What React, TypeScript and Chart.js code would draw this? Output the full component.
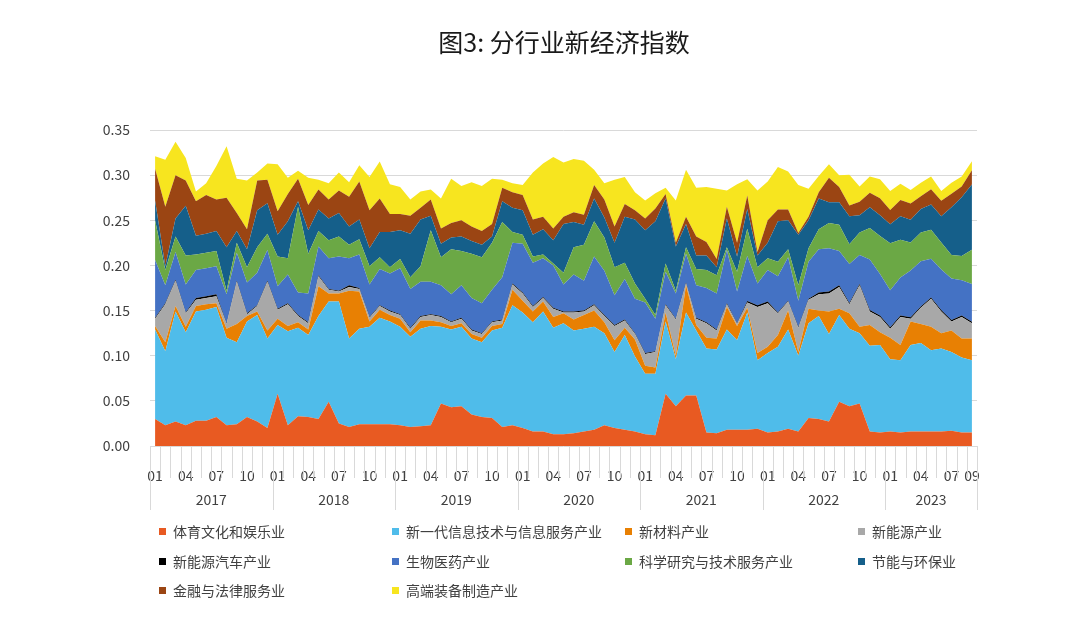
import React, { useEffect, useRef } from "react";
import { Chart, registerables } from "chart.js";

Chart.register(...registerables);

const FONT = '"Noto Sans CJK SC", "Noto Sans", sans-serif';
const TEXT = "#404040";
const GRID = "#D9D9D9";

const YEARS = [2017, 2018, 2019, 2020, 2021, 2022, 2023];
const LAST_MONTH = 9;
const SHOWN_MONTHS = [1, 4, 7, 10];
const Y_TICKS = [0, 0.05, 0.1, 0.15, 0.2, 0.25, 0.3, 0.35];

const CATEGORIES: string[] = [];
YEARS.forEach((y) => {
  for (let m = 1; m <= 12; m++) {
    if (y === YEARS[YEARS.length - 1] && m > LAST_MONTH) break;
    CATEGORIES.push(`${y}-${String(m).padStart(2, "0")}`);
  }
});

const sport = [
  0.030, 0.023, 0.027, 0.023, 0.028, 0.028, 0.032, 0.023, 0.024, 0.032, 0.027, 0.020,
  0.058, 0.023, 0.033, 0.032, 0.030, 0.049, 0.025, 0.021, 0.024, 0.024, 0.024, 0.024,
  0.023, 0.021, 0.022, 0.023, 0.047, 0.043, 0.044, 0.035, 0.032, 0.031, 0.021, 0.023,
  0.020, 0.016, 0.016, 0.013, 0.013, 0.014, 0.016, 0.018, 0.023, 0.020, 0.018, 0.016,
  0.013, 0.012, 0.058, 0.044, 0.056, 0.056, 0.015, 0.014, 0.018, 0.018, 0.018, 0.019,
  0.015, 0.016, 0.019, 0.016, 0.031, 0.030, 0.027, 0.049, 0.044, 0.047, 0.016, 0.015,
  0.016, 0.015, 0.016, 0.016, 0.016, 0.016, 0.017, 0.015, 0.015,
];
const infoTech = [
  0.099, 0.082, 0.122, 0.103, 0.121, 0.123, 0.122, 0.097, 0.091, 0.106, 0.118, 0.099,
  0.076, 0.104, 0.098, 0.091, 0.114, 0.111, 0.135, 0.098, 0.106, 0.108, 0.118, 0.114,
  0.109, 0.100, 0.108, 0.110, 0.085, 0.086, 0.088, 0.084, 0.083, 0.097, 0.110, 0.133,
  0.128, 0.121, 0.133, 0.118, 0.123, 0.114, 0.114, 0.114, 0.102, 0.084, 0.105, 0.083,
  0.067, 0.068, 0.080, 0.052, 0.092, 0.072, 0.093, 0.093, 0.111, 0.099, 0.130, 0.076,
  0.088, 0.094, 0.110, 0.084, 0.105, 0.114, 0.097, 0.096, 0.086, 0.078, 0.095, 0.097,
  0.080, 0.080, 0.096, 0.098, 0.090, 0.092, 0.087, 0.083, 0.080,
];
const materials = [
  0.004, 0.010, 0.006, 0.006, 0.006, 0.006, 0.004, 0.010, 0.020, 0.006, 0.004, 0.009,
  0.007, 0.006, 0.006, 0.006, 0.033, 0.009, 0.009, 0.053, 0.041, 0.006, 0.009, 0.007,
  0.009, 0.005, 0.009, 0.006, 0.005, 0.004, 0.004, 0.005, 0.005, 0.005, 0.004, 0.017,
  0.013, 0.012, 0.011, 0.012, 0.011, 0.012, 0.015, 0.018, 0.012, 0.013, 0.008, 0.019,
  0.009, 0.007, 0.010, 0.004, 0.030, 0.006, 0.012, 0.012, 0.025, 0.016, 0.005, 0.008,
  0.007, 0.013, 0.021, 0.004, 0.016, 0.006, 0.025, 0.007, 0.017, 0.007, 0.023, 0.014,
  0.024, 0.017, 0.026, 0.021, 0.026, 0.017, 0.024, 0.021, 0.024,
];
const newEnergy = [
  0.008, 0.042, 0.028, 0.015, 0.007, 0.007, 0.008, 0.005, 0.047, 0.002, 0.006, 0.054,
  0.010, 0.024, 0.007, 0.007, 0.011, 0.004, 0.002, 0.004, 0.003, 0.004, 0.004, 0.004,
  0.004, 0.004, 0.004, 0.006, 0.006, 0.004, 0.005, 0.004, 0.004, 0.004, 0.004, 0.006,
  0.008, 0.005, 0.004, 0.009, 0.001, 0.008, 0.004, 0.006, 0.007, 0.016, 0.008, 0.006,
  0.013, 0.017, 0.008, 0.040, 0.002, 0.007, 0.016, 0.009, 0.003, 0.002, 0.006, 0.051,
  0.048, 0.024, 0.010, 0.027, 0.010, 0.018, 0.020, 0.024, 0.010, 0.046, 0.015, 0.017,
  0.010, 0.031, 0.003, 0.018, 0.031, 0.024, 0.010, 0.024, 0.017,
];
const evCars = [
  0.001, 0.001, 0.001, 0.001, 0.002, 0.002, 0.002, 0.001, 0.001, 0.001, 0.001, 0.001,
  0.001, 0.001, 0.001, 0.001, 0.001, 0.001, 0.001, 0.002, 0.001, 0.001, 0.001, 0.001,
  0.001, 0.001, 0.001, 0.001, 0.001, 0.001, 0.001, 0.001, 0.001, 0.001, 0.001, 0.001,
  0.001, 0.001, 0.001, 0.001, 0.001, 0.001, 0.001, 0.001, 0.001, 0.001, 0.001, 0.001,
  0.001, 0.001, 0.001, 0.001, 0.001, 0.001, 0.001, 0.001, 0.001, 0.001, 0.0015, 0.002,
  0.002, 0.001, 0.001, 0.001, 0.001, 0.002, 0.002, 0.002, 0.0015, 0.0015, 0.0015, 0.0015,
  0.0015, 0.0015, 0.0015, 0.0015, 0.0015, 0.0015, 0.0015, 0.0015, 0.0015,
];
const biomed = [
  0.064, 0.020, 0.031, 0.031, 0.031, 0.031, 0.031, 0.032, 0.031, 0.034, 0.036, 0.034,
  0.025, 0.032, 0.025, 0.032, 0.032, 0.034, 0.038, 0.030, 0.037, 0.036, 0.040, 0.041,
  0.051, 0.043, 0.038, 0.036, 0.034, 0.030, 0.036, 0.035, 0.033, 0.035, 0.047, 0.045,
  0.054, 0.048, 0.043, 0.047, 0.030, 0.041, 0.033, 0.053, 0.049, 0.033, 0.045, 0.038,
  0.056, 0.036, 0.036, 0.028, 0.032, 0.036, 0.038, 0.040, 0.059, 0.035, 0.050, 0.024,
  0.035, 0.040, 0.048, 0.029, 0.041, 0.048, 0.048, 0.038, 0.043, 0.032, 0.056, 0.046,
  0.041, 0.042, 0.052, 0.050, 0.043, 0.045, 0.046, 0.039, 0.042,
];
const research = [
  0.044, 0.017, 0.017, 0.032, 0.017, 0.017, 0.017, 0.004, 0.011, 0.017, 0.028, 0.018,
  0.033, 0.018, 0.095, 0.044, 0.017, 0.020, 0.022, 0.015, 0.017, 0.020, 0.013, 0.007,
  0.010, 0.013, 0.017, 0.057, 0.031, 0.050, 0.038, 0.049, 0.051, 0.052, 0.061, 0.012,
  0.010, 0.007, 0.004, 0.002, 0.013, 0.030, 0.040, 0.039, 0.037, 0.031, 0.018, 0.017,
  0.004, 0.004, 0.009, 0.003, 0.007, 0.018, 0.020, 0.020, 0.003, 0.022, 0.030, 0.018,
  0.013, 0.016, 0.009, 0.017, 0.015, 0.022, 0.028, 0.029, 0.022, 0.025, 0.035, 0.042,
  0.052, 0.042, 0.031, 0.032, 0.032, 0.030, 0.026, 0.027, 0.038,
];
const ecoProtect = [
  0.022, 0.004, 0.020, 0.055, 0.021, 0.021, 0.022, 0.048, 0.013, 0.020, 0.041, 0.034,
  0.024, 0.041, 0.006, 0.026, 0.024, 0.024, 0.026, 0.020, 0.022, 0.020, 0.028, 0.039,
  0.032, 0.048, 0.052, 0.016, 0.015, 0.013, 0.016, 0.014, 0.014, 0.007, 0.023, 0.027,
  0.027, 0.024, 0.028, 0.026, 0.054, 0.028, 0.022, 0.025, 0.022, 0.027, 0.051, 0.071,
  0.076, 0.104, 0.072, 0.049, 0.026, 0.015, 0.016, 0.009, 0.032, 0.017, 0.022, 0.013,
  0.017, 0.045, 0.032, 0.056, 0.031, 0.034, 0.023, 0.025, 0.031, 0.019, 0.023, 0.023,
  0.021, 0.026, 0.025, 0.026, 0.028, 0.029, 0.053, 0.065, 0.072,
];
const financeLaw = [
  0.035, 0.066, 0.048, 0.028, 0.038, 0.043, 0.035, 0.055, 0.020, 0.022, 0.033, 0.026,
  0.026, 0.030, 0.025, 0.028, 0.022, 0.021, 0.025, 0.033, 0.042, 0.042, 0.037, 0.020,
  0.018, 0.020, 0.013, 0.018, 0.017, 0.016, 0.018, 0.016, 0.015, 0.014, 0.015, 0.017,
  0.017, 0.017, 0.014, 0.013, 0.008, 0.011, 0.011, 0.015, 0.020, 0.018, 0.014, 0.010,
  0.013, 0.014, 0.005, 0.004, 0.008, 0.021, 0.015, 0.009, 0.013, 0.015, 0.015, 0.004,
  0.025, 0.013, 0.012, 0.002, 0.004, 0.007, 0.027, 0.017, 0.012, 0.015, 0.016, 0.019,
  0.016, 0.018, 0.018, 0.014, 0.017, 0.017, 0.015, 0.012, 0.016,
];
const highEnd = [
  0.014, 0.052, 0.037, 0.025, 0.011, 0.013, 0.037, 0.057, 0.038, 0.054, 0.009, 0.018,
  0.052, 0.018, 0.009, 0.030, 0.011, 0.018, 0.020, 0.016, 0.018, 0.037, 0.041, 0.033,
  0.030, 0.018, 0.018, 0.011, 0.033, 0.049, 0.038, 0.049, 0.050, 0.050, 0.009, 0.010,
  0.011, 0.052, 0.059, 0.079, 0.060, 0.059, 0.060, 0.017, 0.018, 0.052, 0.030, 0.020,
  0.020, 0.017, 0.007, 0.047, 0.052, 0.054, 0.061, 0.078, 0.018, 0.065, 0.018, 0.068,
  0.043, 0.047, 0.042, 0.053, 0.031, 0.018, 0.015, 0.013, 0.034, 0.017, 0.018, 0.021,
  0.021, 0.018, 0.015, 0.015, 0.014, 0.011, 0.012, 0.011, 0.010,
];

const SERIES = [
  { name: "体育文化和娱乐业", color: "#E85A22", data: sport },
  { name: "新一代信息技术与信息服务产业", color: "#4FBCEA", data: infoTech },
  { name: "新材料产业", color: "#E88003", data: materials },
  { name: "新能源产业", color: "#A8A8A8", data: newEnergy },
  { name: "新能源汽车产业", color: "#000000", data: evCars },
  { name: "生物医药产业", color: "#4472C4", data: biomed },
  { name: "科学研究与技术服务产业", color: "#6BA845", data: research },
  { name: "节能与环保业", color: "#155F8A", data: ecoProtect },
  { name: "金融与法律服务业", color: "#9B4513", data: financeLaw },
  { name: "高端装备制造产业", color: "#F7E51F", data: highEnd },
];

const LEGEND_COLS = [159, 392, 625, 858];
const LEGEND_ROWS = [531, 561, 590];

const axisDecor = {
  id: "axisDecor",
  afterDraw(chart: any) {
    const { ctx, chartArea } = chart;
    const x = chart.scales.x;
    const n = CATEGORIES.length;
    const step = x.getPixelForValue(1) - x.getPixelForValue(0);
    const edge = (i: number) =>
      i < n ? x.getPixelForValue(i) - step / 2 : x.getPixelForValue(n - 1) + step / 2;
    const bottom = chartArea.bottom;
    ctx.save();
    ctx.strokeStyle = GRID;
    ctx.lineWidth = 1;
    for (let i = 0; i <= n; i++) {
      const isYear = i % 12 === 0 || i === n;
      const px = Math.round(edge(i)) + 0.5;
      ctx.beginPath();
      ctx.moveTo(px, bottom);
      ctx.lineTo(px, bottom + (isYear ? 64 : 32));
      ctx.stroke();
    }
    ctx.fillStyle = TEXT;
    ctx.font = `14px ${FONT}`;
    ctx.textAlign = "center";
    ctx.textBaseline = "middle";
    YEARS.forEach((y, k) => {
      const s = k * 12;
      const e = Math.min(s + 12, n);
      ctx.fillText(String(y), (edge(s) + edge(e)) / 2, bottom + 54);
    });
    ctx.restore();
  },
};

export default function App() {
  const ref = useRef<HTMLCanvasElement>(null);

  useEffect(() => {
    if (!ref.current) return;
    const chart = new Chart(ref.current, {
      type: "line",
      data: {
        labels: CATEGORIES,
        datasets: SERIES.map((s, i) => ({
          label: s.name,
          data: s.data,
          backgroundColor: s.color,
          borderColor: s.color,
          borderWidth: 0,
          pointRadius: 0,
          tension: 0,
          fill: i === 0 ? "origin" : "-1",
        })),
      },
      options: {
        animation: false,
        responsive: true,
        maintainAspectRatio: false,
        layout: { padding: { top: 130, right: 103, bottom: 0, left: 0 } },
        plugins: {
          legend: { display: false },
          title: { display: false },
          tooltip: { enabled: false },
        },
        scales: {
          x: {
            offset: true,
            grid: { display: false },
            border: { display: false },
            ticks: {
              autoSkip: false,
              maxRotation: 0,
              minRotation: 0,
              padding: 13,
              color: TEXT,
              font: { family: FONT, size: 14 },
              callback: (_v: any, i: number) => {
                const m = Number(CATEGORIES[i].slice(5));
                return SHOWN_MONTHS.includes(m) || i === CATEGORIES.length - 1
                  ? CATEGORIES[i].slice(5)
                  : "";
              },
            },
            afterFit: (s: any) => {
              s.height = 197;
            },
          },
          y: {
            stacked: true,
            min: Y_TICKS[0],
            max: Y_TICKS[Y_TICKS.length - 1],
            afterBuildTicks: (s: any) => {
              s.ticks = Y_TICKS.map((v) => ({ value: v }));
            },
            ticks: {
              padding: 20,
              color: TEXT,
              font: { family: FONT, size: 14 },
              callback: (v: any) => Number(v).toFixed(2),
            },
            grid: { color: GRID, drawTicks: false, lineWidth: 1 },
            border: { display: false },
            afterFit: (s: any) => {
              s.width = 150;
            },
          },
        },
      },
      plugins: [axisDecor],
    });
    return () => chart.destroy();
  }, []);

  return (
    <div
      style={{
        position: "fixed",
        left: 0,
        top: 0,
        width: 1080,
        height: 643,
        background: "#ffffff",
        fontFamily: FONT,
        overflow: "hidden",
      }}
    >
      <div style={{ position: "absolute", left: 0, top: 0, width: 1080, height: 643 }}>
        <canvas ref={ref} />
      </div>
      <div
        style={{
          position: "absolute",
          left: 564,
          top: 27,
          transform: "translateX(-50%)",
          fontSize: 25,
          lineHeight: "28px",
          color: "#1a1a1a",
          whiteSpace: "nowrap",
        }}
      >
        图3: 分行业新经济指数
      </div>
      {SERIES.map((s, i) => (
        <div
          key={s.name}
          style={{
            position: "absolute",
            left: LEGEND_COLS[i % 4],
            top: LEGEND_ROWS[Math.floor(i / 4)] - 10,
            height: 20,
            display: "flex",
            alignItems: "center",
            fontSize: 14,
            color: TEXT,
            whiteSpace: "nowrap",
          }}
        >
          <span
            style={{
              display: "inline-block",
              width: 7,
              height: 7,
              background: s.color,
              marginRight: 7,
            }}
          />
          {s.name}
        </div>
      ))}
    </div>
  );
}
